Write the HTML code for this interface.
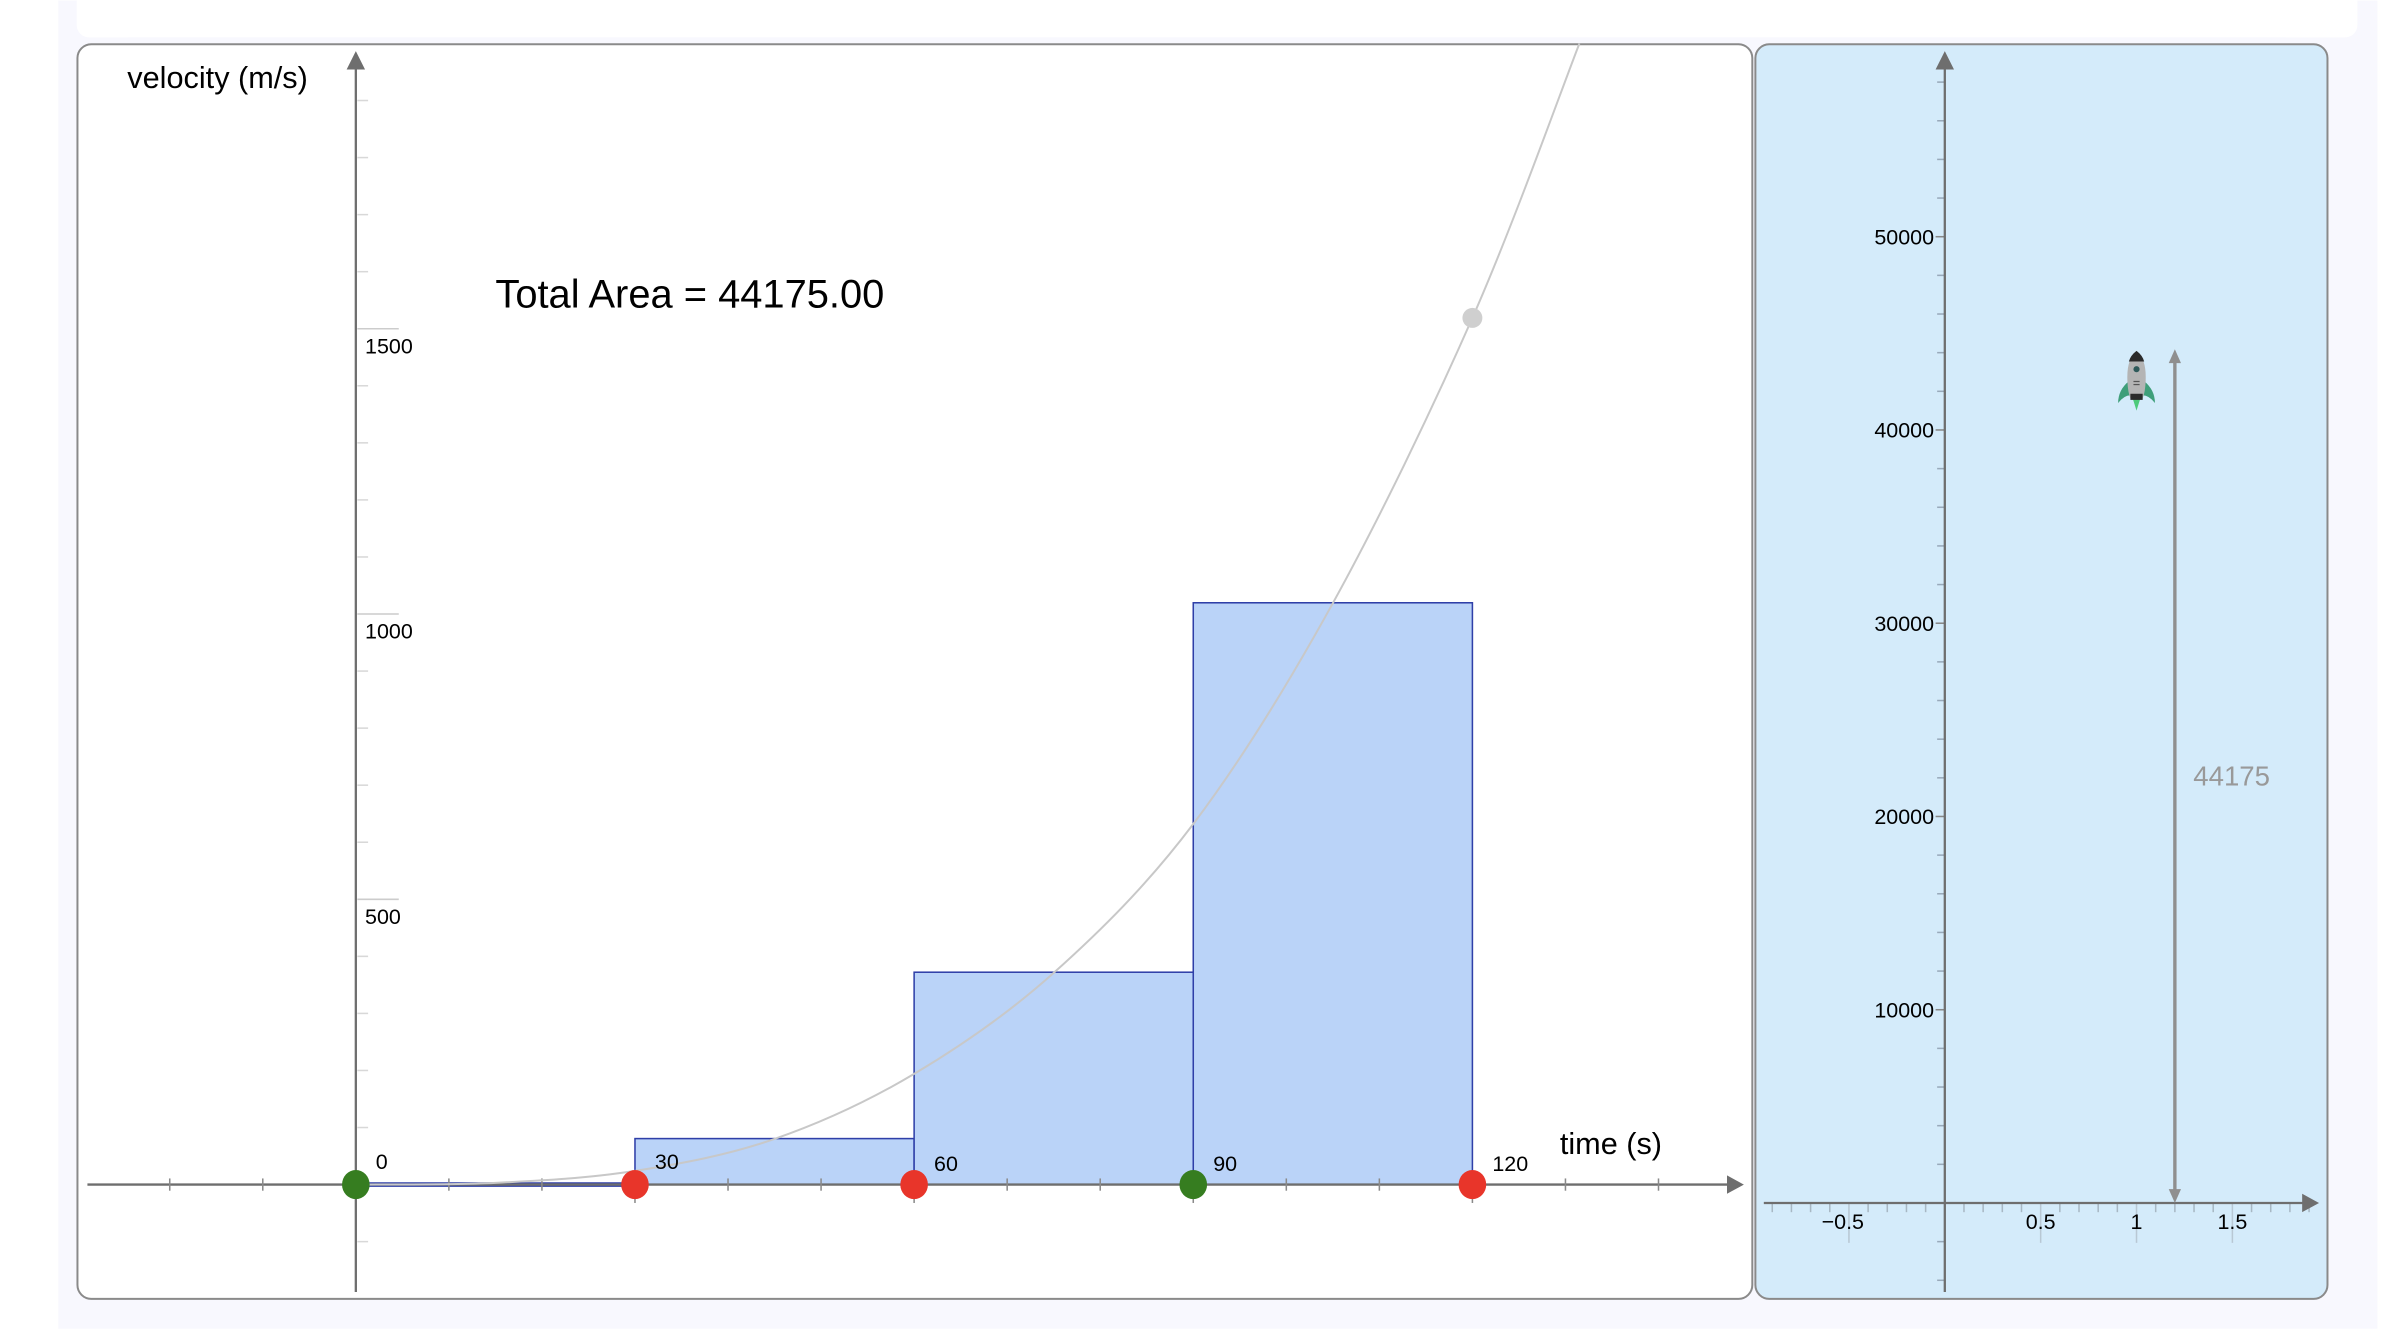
<!DOCTYPE html>
<html><head><meta charset="utf-8">
<style>
html,body{margin:0;padding:0;background:#fff;}
svg{display:block;}
text{font-family:"Liberation Sans Narrow","Liberation Sans",sans-serif;}
</style></head>
<body>
<svg id="chart" width="2408" height="1340" viewBox="0 0 1570 873" xmlns="http://www.w3.org/2000/svg">
  <rect x="38" y="0" width="1512" height="866" fill="#f8f8fe"/>
  <rect x="50" y="-10" width="1487" height="34" rx="8" fill="#ffffff"/>
  <rect x="50.5" y="28.5" width="1092" height="818" rx="9" fill="#ffffff" stroke="#8a8a8a" stroke-width="1.3"/>
  <rect x="1144.5" y="28.5" width="373" height="818" rx="9" fill="#d4ebfa" stroke="#8a8a8a" stroke-width="1.3"/>
  <g id="left"></g>
  <g id="right"></g>
  <text x="83" y="57" font-size="20" fill="#000">velocity (m/s)</text>
  <text x="1017" y="752" font-size="20" fill="#000">time (s)</text>
  <text x="323" y="200" font-size="26" fill="#000">Total Area = 44175.00</text>
</svg>
<script>
// ---- data ----
const sampleTimes = [0, 30, 60, 90];          // left endpoints
const barHeights = [0, 80.6, 372.2, 1019.7];  // velocity at left endpoints (m/s)
const barWidth = 30;
const endpointTimes = [0, 30, 60, 90, 120];
const endpointColors = ["#367d20","#e8352a","#e8352a","#367d20","#e8352a"];
const curveT = [0, 15, 30, 45, 60, 75, 90, 105, 120, 131.5];
const curveV = [0, 3, 24, 80, 194, 371, 632, 1019, 1519, 2000];
const curvePointT = [120];
const curvePointV = [1519];
const yTickLabels = [500, 1000, 1500];
const xTickLabels = [0, 30, 60, 90, 120];
const totalHeight = [44175];
const heightTicks = [10000, 20000, 30000, 40000, 50000];
const rightXTicks = [-0.5, 0.5, 1, 1.5];
const rocketX = [1];
const arrowX = [1.2];

const NS = "http://www.w3.org/2000/svg";
function mk(parent, tag, attrs){ const e=document.createElementNS(NS,tag); for(const k in attrs) e.setAttribute(k,attrs[k]); parent.appendChild(e); return e; }

// left axes
const X = t => 232 + t*182/30;
const Y = v => 772 - v*0.372;
const L = document.getElementById('left');

for(let v=-100; v<=1900; v+=100){ if(v===0) continue;
  const major = v%500===0;
  const t = mk(L,'line',{x1:233,x2:major?260:240,y1:Y(v),y2:Y(v),stroke:major?'#ccc':'#d8d8d8','stroke-width':1});
   
}
sampleTimes.forEach((t,i)=>{
  const h = barHeights[i];
  const r = mk(L,'rect',{x:X(t),y:Y(h),width:X(t+barWidth)-X(t),height:Math.max(Y(0)-Y(h),0.01),fill:'#bad3f8',stroke:'#2f3fa8','stroke-width':1});
   
});
const z = mk(L,'line',{x1:X(0),x2:X(30),y1:Y(0),y2:Y(0),stroke:'#2f3fa8','stroke-width':3});
 
const xa = mk(L,'line',{x1:57,x2:1128,y1:772,y2:772,stroke:'#6e6e6e','stroke-width':1.5});
 
const xah = mk(L,'path',{d:'M1137 772 L1126 766 L1126 778 Z',fill:'#6e6e6e'});
 
for(let t=-20;t<=140;t+=10){ if(t===0) continue;
  const long = t%30===0;
  const tk = mk(L,'line',{x1:X(t),x2:X(t),y1:768,y2:long?784:776,stroke:'#8a8a8a','stroke-width':1});
   
}
const ya = mk(L,'line',{x1:232,x2:232,y1:842,y2:44,stroke:'#6e6e6e','stroke-width':1.5});
 
const yah = mk(L,'path',{d:'M232 33 L226 45 L238 45 Z',fill:'#6e6e6e'});
 
yTickLabels.forEach(v=>{
  const tx = mk(L,'text',{x:238,y:Y(v)+16,'font-size':14,fill:'#000'}); tx.textContent=v;
   
});
// curve
const pts = curveT.map((t,i)=>[X(t),Y(curveV[i])]);
let d = 'M'+pts[0][0]+' '+pts[0][1];
for(let i=0;i<pts.length-1;i++){
  const p0=pts[Math.max(i-1,0)],p1=pts[i],p2=pts[i+1],p3=pts[Math.min(i+2,pts.length-1)];
  const c1=[p1[0]+(p2[0]-p0[0])/6,p1[1]+(p2[1]-p0[1])/6];
  const c2=[p2[0]-(p3[0]-p1[0])/6,p2[1]-(p3[1]-p1[1])/6];
  d+=` C${c1[0]} ${c1[1]} ${c2[0]} ${c2[1]} ${p2[0]} ${p2[1]}`;
}
const cv = mk(L,'path',{d:d,fill:'none',stroke:'#c8c8c8','stroke-width':1.3});
 
xTickLabels.forEach(t=>{
  const tx = mk(L,'text',{x:X(t)+13,y:t<=30?762:763,'font-size':14,fill:'#000'}); tx.textContent=t;
   
});
curvePointT.forEach((t,i)=>{
  const c = mk(L,'circle',{cx:X(t),cy:Y(curvePointV[i]),r:6.5,fill:'#cfcfcf'});
   
});
endpointTimes.forEach((t,i)=>{
  const c = mk(L,'ellipse',{cx:X(t),cy:772,rx:9,ry:9.5,fill:endpointColors[i]});
   
});

// right panel
const R = document.getElementById('right');
const RX = x => 1268 + x*125;
const RY = h => 784 - h*0.0126;
for(let h=-4000; h<=58000; h+=2000){ if(h===0) continue;
  const major = h%10000===0;
  const tk = mk(R,'line',{x1:major?1262:1263,x2:1268,y1:RY(h),y2:RY(h),stroke:major?'#888':'#9ab',"stroke-width":1});
   
}
for(let k=-9;k<=19;k++){ if(k===0) continue;
  const major = k%5===0;
  const tk = mk(R,'line',{x1:RX(k/10),x2:RX(k/10),y1:784,y2:major?810:790,stroke:major?'#b8c8d4':'#a8b8c4','stroke-width':1});
   
}
const rxa = mk(R,'line',{x1:1150,x2:1502,y1:784,y2:784,stroke:'#6e6e6e','stroke-width':1.5});
 
const rxah = mk(R,'path',{d:'M1512 784 L1501 778 L1501 790 Z',fill:'#6e6e6e'});
 
const rya = mk(R,'line',{x1:1268,x2:1268,y1:842,y2:44,stroke:'#6e6e6e','stroke-width':1.5});
 
const ryah = mk(R,'path',{d:'M1268 33 L1262 45 L1274 45 Z',fill:'#6e6e6e'});
 
heightTicks.forEach(h=>{
  const tx = mk(R,'text',{x:1261,y:RY(h)+5,'font-size':14,fill:'#000','text-anchor':'end'}); tx.textContent=h;
   
});
rightXTicks.forEach(x=>{
  const tx = mk(R,'text',{x:RX(x)+(x<0?-4:0),y:801,'font-size':14,fill:'#000','text-anchor':'middle'}); tx.textContent=(x<0?'\u22120.5':String(x));
   
});
const ax = RX(arrowX[0]), ay = RY(totalHeight[0]);
const al = mk(R,'line',{x1:ax,x2:ax,y1:ay+8,y2:776,stroke:'#8f8f8f','stroke-width':2.2});
 
const ah1 = mk(R,'path',{d:`M${ax} ${ay} L${ax-4} ${ay+9} L${ax+4} ${ay+9} Z`,fill:'#8f8f8f'});
 
const ah2 = mk(R,'path',{d:`M${ax} 784 L${ax-4} 775 L${ax+4} 775 Z`,fill:'#8f8f8f'});
 
const hl = mk(R,'text',{x:ax+12,y:(ay+784)/2+6,'font-size':18,fill:'#999'}); hl.textContent=totalHeight[0];
 
const rx = RX(rocketX[0]), ry = ay+18;
const rk = mk(R,'g',{transform:`translate(${rx},${ry})`});
 
mk(rk,'path',{d:'M-4 2 Q-12 8 -12 17 Q-8 12 -4 12 Z',fill:'#3f9f7a'});
mk(rk,'path',{d:'M4 2 Q12 8 12 17 Q8 12 4 12 Z',fill:'#3f9f7a'});
mk(rk,'path',{d:'M-2.5 14 L2.5 14 L0 22 Z',fill:'#4dca7a'});
mk(rk,'path',{d:'M0 -17 Q6 -12 6 0 Q6 9 4 14 L-4 14 Q-6 9 -6 0 Q-6 -12 0 -17 Z',fill:'#b4b4b4'});
mk(rk,'path',{d:'M0 -17 Q4 -14 5 -10 L-5 -10 Q-4 -14 0 -17 Z',fill:'#2b2b2b'});
mk(rk,'rect',{x:-4,y:11,width:8,height:4,fill:'#2b2b2b'});
mk(rk,'circle',{cx:0,cy:-5,r:2,fill:'#2e5a5a'});
mk(rk,'line',{x1:-2,x2:2,y1:3,y2:3,stroke:'#555','stroke-width':0.8});
mk(rk,'line',{x1:-2,x2:2,y1:5,y2:5,stroke:'#555','stroke-width':0.8});
</script>
</body></html>
